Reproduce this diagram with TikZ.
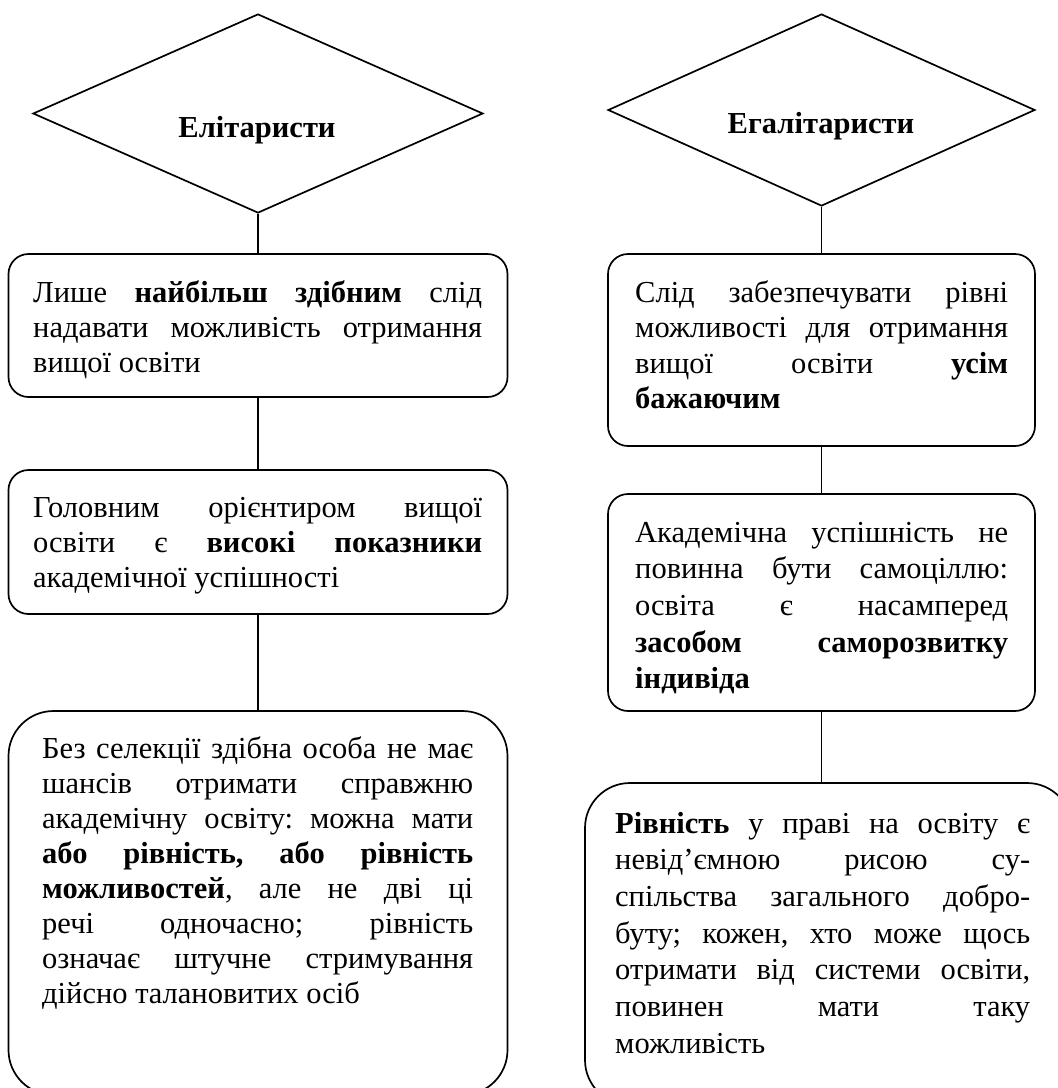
\documentclass[tikz,border=0pt]{standalone}
\usepackage{fontspec}
\setmainfont{Liberation Serif}
\usetikzlibrary{shapes.geometric}
\newcommand{\jl}[1]{\hbox to\hsize{\spaceskip=0.25em plus 1fil\relax#1}}
\newcommand{\lastl}[1]{\hbox{#1}}
\newcommand{\tblock}[3]{\parbox[t]{#1}{\frenchspacing\baselineskip=#2\relax#3}}
\tikzset{
  rbox/.style={draw, line width=1.7pt, rectangle, rounded corners=20pt, inner sep=0pt},
  bigbox/.style={rbox, rounded corners=45pt},
  dia/.style={draw, diamond, line width=1.7pt, inner sep=0pt},
  conn/.style={line width=1.7pt},
  txt/.style={anchor=base west, inner sep=0pt, font=\fontsize{30.5}{35}\selectfont},
  dtxt/.style={anchor=base, inner sep=0pt, font=\fontsize{30.5}{35}\selectfont\bfseries}
}
\begin{document}
\begin{tikzpicture}[x=1pt, y=-1pt]
\useasboundingbox (0,0) rectangle (1058,1088);
% left column
\node[dia, minimum width=450pt, minimum height=199pt] (dl) at (258,113.5) {};
\node[dtxt] (dlt) at (257,137) {Елітаристи};
\node[rbox, minimum width=499pt, minimum height=143pt] (lb1) at (258,325.5) {};
\node[rbox, minimum width=499pt, minimum height=144pt] (lb2) at (258,542) {};
\node[bigbox, minimum width=499pt, minimum height=384pt] (lb3) at (258,903) {};
\node[txt] (lt1) at (33,302) {\tblock{449pt}{35pt}{%
\jl{Лише \textbf{найбільш здібним} слід}
\jl{надавати можливість отримання}
\lastl{вищої освіти}}};
\node[txt] (lt2) at (33,517) {\tblock{449pt}{35pt}{%
\jl{Головним орієнтиром вищої}
\jl{освіти є \textbf{високі показники}}
\lastl{академічної успішності}}};
\node[txt] (lt3) at (42,758) {\tblock{431pt}{35pt}{%
\jl{Без селекції здібна особа не має}
\jl{шансів отримати справжню}
\jl{академічну освіту: можна мати}
\jl{\textbf{або рівність, або рівність}}
\jl{\textbf{можливостей}, але не дві ці}
\jl{речі одночасно; рівність}
\jl{означає штучне стримування}
\lastl{дійсно талановитих осіб}}};
% right column
\node[dia, minimum width=427pt, minimum height=192pt] (dr) at (821.5,110) {};
\node[dtxt] (drt) at (821,133) {Егалітаристи};
\node[rbox, minimum width=427pt, minimum height=192pt] (rb1) at (821.5,350) {};
\node[rbox, minimum width=427pt, minimum height=217pt] (rb2) at (821.5,602.5) {};
\node[bigbox, minimum width=487pt, minimum height=322pt] (rb3) at (828.5,944) {};
\node[txt] (rt1) at (635,302) {\tblock{373pt}{35.5pt}{%
\jl{Слід забезпечувати рівні}
\jl{можливості для отримання}
\jl{вищої освіти \textbf{усім}}
\lastl{\textbf{бажаючим}}}};
\node[txt] (rt2) at (635,542) {\tblock{373pt}{36.7pt}{%
\jl{Академічна успішність не}
\jl{повинна бути самоціллю:}
\jl{освіта є насамперед}
\jl{\textbf{засобом саморозвитку}}
\lastl{\textbf{індивіда}}}};
\node[txt] (rt3) at (615,833) {\tblock{415pt}{36.7pt}{%
\jl{\textbf{Рівність} у праві на освіту є}
\jl{невід’ємною рисою су-}
\jl{спільства загального добро-}
\jl{буту; кожен, хто може щось}
\jl{отримати від системи освіти,}
\jl{повинен мати таку}
\lastl{можливість}}};
% connectors
\draw[conn] (dl.south) -- (lb1.north);
\draw[conn] (lb1.south) -- (lb2.north);
\draw[conn] (lb2.south) -- (lb3.north);
\draw[conn] (dr.south) -- (rb1.north);
\draw[conn] (rb1.south) -- (rb2.north);
\draw[conn] (rb2.south) -- (rb2.south |- rb3.north);
\end{tikzpicture}
\end{document}
